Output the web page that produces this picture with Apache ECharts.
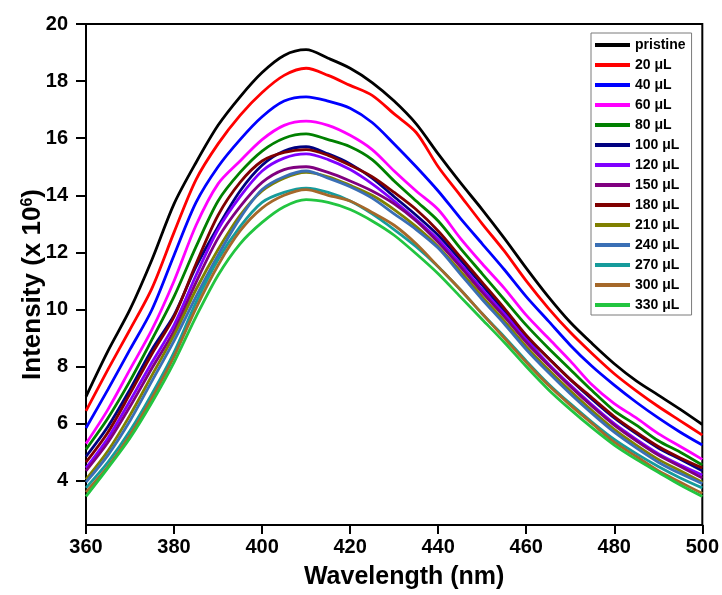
<!DOCTYPE html>
<html>
<head>
<meta charset="utf-8">
<script src="https://cdn.jsdelivr.net/npm/echarts@6/dist/echarts.min.js"></script>
<style>
html,body{margin:0;padding:0;background:#fff;}
#chart{width:722px;height:595px;}
</style>
</head>
<body>
<div id="chart"></div>
<script>
// Wavelength grid (nm)
var wavelength = [360,365,370,375,380,385,390,395,400,405,410,415,420,425,430,435,440,445,450,455,460,465,470,475,480,485,490,495,500];

// Intensity (x 10^6) for each sample
var pristine = [6.95,8.55,10.0,11.75,13.7,15.15,16.45,17.45,18.3,18.9,19.1,18.8,18.45,17.95,17.3,16.5,15.45,14.45,13.5,12.5,11.45,10.45,9.55,8.8,8.1,7.5,7.0,6.5,5.97];
var uL20 = [6.45,7.9,9.3,10.75,12.7,14.55,15.8,16.8,17.6,18.2,18.45,18.2,17.85,17.5,16.85,16.2,15.0,14.0,13.0,12.05,11.0,10.05,9.2,8.45,7.75,7.15,6.6,6.1,5.6];
var uL40 = [5.85,7.2,8.6,10.0,11.9,13.75,15.0,15.95,16.75,17.3,17.45,17.3,17.05,16.55,15.8,15.0,14.15,13.2,12.3,11.4,10.45,9.6,8.75,8.0,7.35,6.75,6.2,5.7,5.25];
var uL60 = [5.3,6.5,7.9,9.3,11.0,12.95,14.4,15.2,15.95,16.45,16.6,16.45,16.1,15.6,14.85,14.15,13.5,12.5,11.6,10.75,9.8,9.0,8.2,7.35,6.7,6.2,5.65,5.2,4.75];
var uL80 = [5.1,6.2,7.5,8.95,10.45,12.2,13.8,14.8,15.55,16.0,16.15,15.95,15.7,15.25,14.5,13.8,13.1,12.15,11.25,10.35,9.45,8.65,7.9,7.15,6.45,5.95,5.4,5.0,4.55];
var uL100 = [4.85,5.9,7.2,8.6,9.8,11.5,12.9,14.15,15.05,15.55,15.7,15.45,15.1,14.6,13.95,13.3,12.6,11.75,10.85,9.95,9.05,8.3,7.55,6.85,6.2,5.65,5.15,4.75,4.35];
var uL120 = [4.45,5.5,6.8,8.15,9.45,11.2,12.8,13.95,14.85,15.3,15.45,15.25,14.9,14.4,13.8,13.15,12.45,11.6,10.7,9.85,8.95,8.1,7.35,6.65,6.0,5.45,4.95,4.55,4.2];
var uL150 = [4.35,5.35,6.6,7.95,9.25,10.95,12.5,13.6,14.45,14.9,15.0,14.8,14.5,14.15,13.7,13.1,12.35,11.5,10.6,9.75,8.85,8.05,7.3,6.6,5.95,5.4,4.9,4.5,4.1];
var uL180 = [4.65,5.7,7.05,8.45,9.75,11.6,13.3,14.45,15.2,15.5,15.6,15.4,15.05,14.65,14.1,13.5,12.75,11.85,10.95,10.05,9.1,8.3,7.55,6.9,6.25,5.7,5.2,4.8,4.45];
var uL210 = [4.05,5.05,6.3,7.7,9.1,10.7,12.1,13.3,14.15,14.6,14.8,14.65,14.35,14.0,13.5,12.9,12.2,11.35,10.45,9.6,8.7,7.9,7.15,6.45,5.8,5.25,4.75,4.35,3.95];
var uL240 = [3.95,4.9,6.1,7.5,8.9,10.45,11.9,13.2,14.2,14.65,14.85,14.6,14.3,13.9,13.35,12.8,12.15,11.25,10.35,9.5,8.6,7.8,7.05,6.35,5.7,5.15,4.65,4.25,3.9];
var uL270 = [3.75,4.65,5.75,7.05,8.5,10.25,11.75,12.9,13.75,14.1,14.25,14.1,13.8,13.35,12.8,12.2,11.5,10.7,9.85,9.05,8.2,7.4,6.7,6.05,5.45,4.95,4.5,4.1,3.75];
var uL300 = [3.6,4.5,5.6,6.9,8.35,10.05,11.55,12.75,13.55,14.0,14.2,14.0,13.8,13.4,12.95,12.3,11.5,10.7,9.85,9.0,8.15,7.35,6.65,6.0,5.35,4.85,4.35,3.95,3.55];
var uL330 = [3.45,4.45,5.5,6.75,8.15,9.75,11.2,12.3,13.05,13.6,13.85,13.75,13.5,13.1,12.6,11.95,11.25,10.45,9.65,8.85,8.0,7.2,6.5,5.85,5.25,4.75,4.3,3.85,3.45];

var seriesNames = ['pristine','20 μL','40 μL','60 μL','80 μL','100 μL','120 μL','150 μL','180 μL','210 μL','240 μL','270 μL','300 μL','330 μL'];
var seriesValues = [pristine,uL20,uL40,uL60,uL80,uL100,uL120,uL150,uL180,uL210,uL240,uL270,uL300,uL330];
var seriesColors = ['#000000','#ff0000','#0000ff','#ff00ff','#008000','#000080','#8000ff','#800080','#800000','#808000','#3a6fb5','#169b9b','#a5682a','#22c540'];

var yTicks = [4,6,8,10,12,14,16,18,20];

var FONT = "'Liberation Sans', Arial, sans-serif";

var series = seriesNames.map(function(name, i){
  return {
    name: name,
    type: 'line',
    data: wavelength.map(function(w, j){ return [w, seriesValues[i][j]]; }),
    showSymbol: false,
    symbol: 'none',
    smooth: 0.3,
    lineStyle: {width: 2.8, color: seriesColors[i]},
    itemStyle: {color: seriesColors[i]},
    emphasis: {disabled: true}
  };
});

var chart = echarts.init(document.getElementById('chart'), null, {renderer: 'canvas'});
chart.setOption({
  animation: false,
  backgroundColor: '#ffffff',
  grid: {left: 86, right: 19, top: 24, bottom: 68, show: true, borderColor: '#000', borderWidth: 2, backgroundColor: 'transparent'},
  xAxis: {
    type: 'value', min: 360, max: 500, interval: 20,
    name: 'Wavelength (nm)', nameLocation: 'middle', nameGap: 40,
    nameTextStyle: {fontFamily: FONT, fontSize: 25, fontWeight: 'bold', color: '#000', padding: [0, 0, 0, 20]},
    axisLine: {show: true, lineStyle: {color: '#000', width: 2}},
    axisTick: {show: true, inside: false, length: 9, lineStyle: {color: '#000', width: 2}},
    axisLabel: {fontFamily: FONT, fontSize: 20, fontWeight: 'bold', color: '#000', margin: 12},
    splitLine: {show: false}
  },
  yAxis: {
    type: 'value', min: 2.45, max: 20,
    name: 'Intensity (x 10{sup|6})', nameLocation: 'middle', nameGap: 40, nameMoveOverlap: false,
    nameTextStyle: {fontFamily: FONT, fontSize: 26, fontWeight: 'bold', color: '#000', padding: [0, 20, 0, 0],
      rich: {sup: {fontFamily: FONT, fontSize: 16, fontWeight: 'bold', color: '#000', verticalAlign: 'top', lineHeight: 14}}},
    axisLine: {show: true, lineStyle: {color: '#000', width: 2}},
    axisTick: {show: true, inside: false, length: 10, customValues: yTicks, lineStyle: {color: '#000', width: 2}},
    axisLabel: {fontFamily: FONT, fontSize: 20, fontWeight: 'bold', color: '#000', margin: 18, customValues: yTicks},
    splitLine: {show: false}
  },
  legend: {
    orient: 'vertical', left: 591, top: 33,
    padding: [5, 6, 3, 4],
    itemGap: 6, itemWidth: 35, itemHeight: 4, icon: 'rect',
    borderColor: '#7a7a7a', borderWidth: 1, backgroundColor: '#fff',
    textStyle: {fontFamily: FONT, fontSize: 14, fontWeight: 'bold', color: '#000', lineHeight: 14},
    data: seriesNames
  },
  series: series
});
</script>
</body>
</html>
